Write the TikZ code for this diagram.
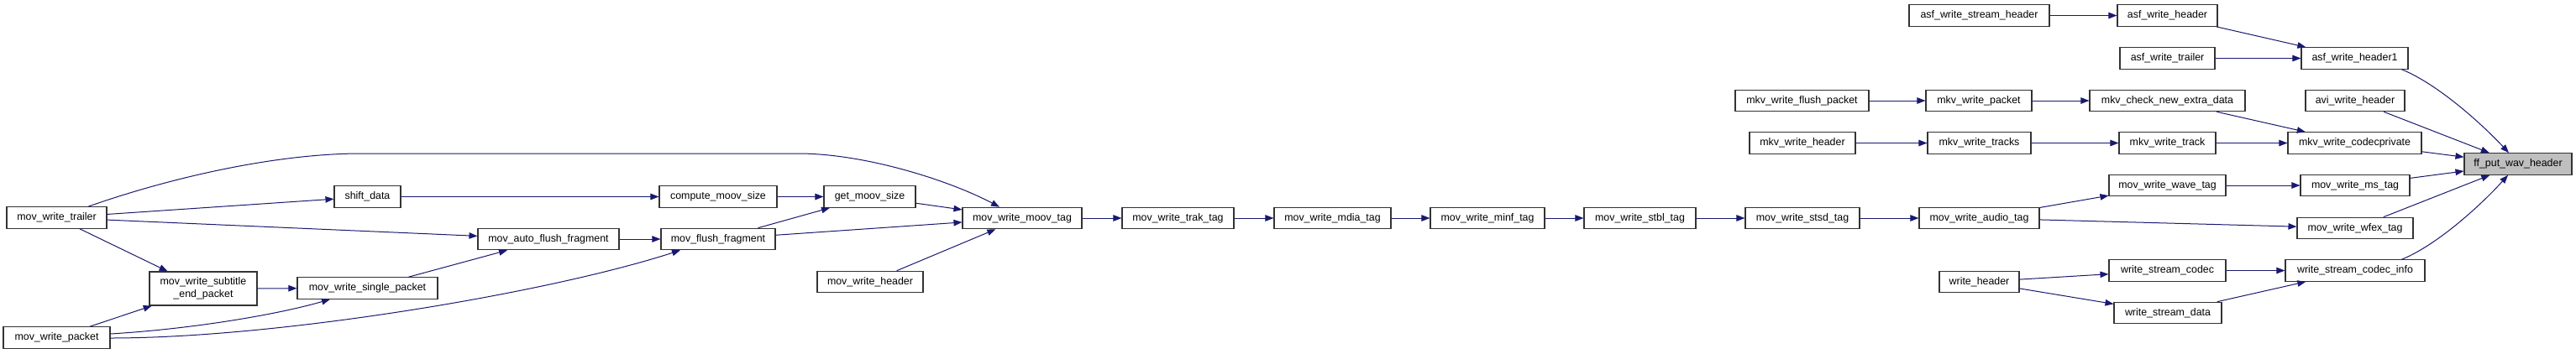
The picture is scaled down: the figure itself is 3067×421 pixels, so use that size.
\documentclass[tikz,border=0pt]{standalone}
\usepackage{fontspec}
\setmainfont{Liberation Sans}
\usetikzlibrary{arrows.meta,calc}
\definecolor{edgeblue}{HTML}{191970}
\definecolor{boxline}{HTML}{333333}
\definecolor{greyfill}{HTML}{BFBFBF}
\begin{document}
\begin{tikzpicture}[x=1pt,y=-1pt,
  fn/.style={draw=boxline, line width=1.1pt, fill=white, inner sep=0pt,
    minimum height=25.5pt, font=\fontsize{12.4}{15}\selectfont, align=center},
  edge/.style={draw=edgeblue, line width=1pt, -{Triangle[length=10pt,width=7.5pt]}}]
\fill[white] (0,0) rectangle (3067,421);
\useasboundingbox (0,0) rectangle (3067,421);
% left part
\node[fn, minimum width=119pt] (trailer) at (67.5,259.5) {mov\_write\_trailer};
\node[fn, minimum width=127pt] (packet) at (67.5,402.5) {mov\_write\_packet};
\node[fn, minimum width=128pt, minimum height=40pt] (subtitle) at (242,344) {mov\_write\_subtitle\\\_end\_packet};
\node[fn, minimum width=79pt] (shift) at (437.5,234.5) {shift\_data};
\node[fn, minimum width=167pt] (single) at (437.5,343.5) {mov\_write\_single\_packet};
\node[fn, minimum width=168pt] (autoflush) at (653,285) {mov\_auto\_flush\_fragment};
\node[fn, minimum width=140pt] (compute) at (855,234.5) {compute\_moov\_size};
\node[fn, minimum width=136pt] (flush) at (855,285) {mov\_flush\_fragment};
\node[fn, minimum width=109pt] (getmoov) at (1035.5,234.5) {get\_moov\_size};
\node[fn, minimum width=126pt] (movheader) at (1036,336) {mov\_write\_header};
% main chain
\node[fn, minimum width=142pt] (moov) at (1217,260) {mov\_write\_moov\_tag};
\node[fn, minimum width=133pt] (trak) at (1402.5,260) {mov\_write\_trak\_tag};
\node[fn, minimum width=139pt] (mdia) at (1586.5,260) {mov\_write\_mdia\_tag};
\node[fn, minimum width=136pt] (minf) at (1771,260) {mov\_write\_minf\_tag};
\node[fn, minimum width=133pt] (stbl) at (1952.5,260) {mov\_write\_stbl\_tag};
\node[fn, minimum width=136pt] (stsd) at (2146,260) {mov\_write\_stsd\_tag};
\node[fn, minimum width=143pt] (audio) at (2356.5,260) {mov\_write\_audio\_tag};
\node[fn, minimum width=95pt] (writeheader) at (2356.5,336) {write\_header};
% upper right part
\node[fn, minimum width=167pt] (asfsh) at (2356.5,18.5) {asf\_write\_stream\_header};
\node[fn, minimum width=159pt] (mkvfp) at (2145.5,120) {mkv\_write\_flush\_packet};
\node[fn, minimum width=126pt] (mkvpacket) at (2356,120) {mkv\_write\_packet};
\node[fn, minimum width=126pt] (mkvheader) at (2146,170.5) {mkv\_write\_header};
\node[fn, minimum width=123pt] (mkvtracks) at (2356.5,170.5) {mkv\_write\_tracks};
\node[fn, minimum width=119pt] (asfh) at (2580.5,18.5) {asf\_write\_header};
\node[fn, minimum width=113pt] (asft) at (2580.5,69.5) {asf\_write\_trailer};
\node[fn, minimum width=185pt] (mkvcheck) at (2580.5,120) {mkv\_check\_new\_extra\_data};
\node[fn, minimum width=115pt] (mkvtrack) at (2580.5,170.5) {mkv\_write\_track};
\node[fn, minimum width=139pt] (wave) at (2580.5,221) {mov\_write\_wave\_tag};
\node[fn, minimum width=139pt] (wsc) at (2580.5,322.5) {write\_stream\_codec};
\node[fn, minimum width=128pt] (wsd) at (2581,373) {write\_stream\_data};
\node[fn, minimum width=127pt] (h1) at (2803.5,69.5) {asf\_write\_header1};
\node[fn, minimum width=118pt] (avi) at (2804,120) {avi\_write\_header};
\node[fn, minimum width=159pt] (codecpriv) at (2803.5,170.5) {mkv\_write\_codecprivate};
\node[fn, minimum width=130pt] (ms) at (2804,221) {mov\_write\_ms\_tag};
\node[fn, minimum width=138pt] (wfex) at (2804,272) {mov\_write\_wfex\_tag};
\node[fn, minimum width=166pt] (wsci) at (2804,322.5) {write\_stream\_codec\_info};
\node[fn, minimum width=128pt, fill=greyfill] (ff) at (2998,195.5) {ff\_put\_wav\_header};
% edges right
\draw[edge] (asfsh) -- (asfh);
\draw[edge] (asfh) -- (h1);
\draw[edge] (asft) -- (h1);
\draw[edge] ($(h1.south east)+(-8,0)$) .. controls (2904,101) and (2957,150) .. ($(ff.north)+(-11,0)$);
\draw[edge] (avi) -- (ff);
\draw[edge] (mkvfp) -- (mkvpacket);
\draw[edge] (mkvpacket) -- (mkvcheck);
\draw[edge] (mkvcheck) -- (codecpriv);
\draw[edge] (mkvheader) -- (mkvtracks);
\draw[edge] (mkvtracks) -- (mkvtrack);
\draw[edge] (mkvtrack) -- (codecpriv);
\draw[edge] (codecpriv) -- (ff);
\draw[edge] (wave) -- (ms);
\draw[edge] (ms) -- (ff);
\draw[edge] (audio) -- (wave);
\draw[edge] (audio) -- (wfex);
\draw[edge] (wfex) -- (ff);
\draw[edge] ($(wsci.north east)+(-28,0)$) .. controls (2904,291) and (2957,241) .. ($(ff.south)+(-12,0)$);
\draw[edge] (writeheader) -- (wsc);
\draw[edge] (writeheader) -- (wsd);
\draw[edge] (wsc) -- (wsci);
\draw[edge] (wsd) -- (wsci);
% main chain edges
\draw[edge] (stsd) -- (audio);
\draw[edge] (stbl) -- (stsd);
\draw[edge] (minf) -- (stbl);
\draw[edge] (mdia) -- (minf);
\draw[edge] (trak) -- (mdia);
\draw[edge] (moov) -- (trak);
\draw[edge] (getmoov) -- (moov);
\draw[edge] (flush) -- (moov);
\draw[edge] (movheader) -- (moov);
% left edges
\draw[edge] ($(trailer.north)+(37.5,0)$) .. controls (205,211) and (330,183) .. (430,183) -- (950,183) .. controls (1030,183) and (1130,215) .. ($(moov.north)+(-27,0)$);
\draw[edge] (trailer) -- (shift);
\draw[edge] (shift) -- (compute);
\draw[edge] (compute) -- (getmoov);
\draw[edge] (trailer) -- (autoflush);
\draw[edge] (trailer) -- (subtitle);
\draw[edge] (autoflush) -- (flush);
\draw[edge] (flush) -- (getmoov);
\draw[edge] (single) -- (autoflush);
\draw[edge] (subtitle) -- (single);
\draw[edge] (packet) -- (subtitle);
\draw[edge] ($(packet.east)+(0,-4.5)$) .. controls (230,392) and (330,375) .. ($(single.south)+(-44.5,0)$);
\draw[edge] ($(packet.east)+(0,0.5)$) .. controls (330,403) and (650,350) .. ($(flush.south)+(-45,0)$);
\end{tikzpicture}
\end{document}
